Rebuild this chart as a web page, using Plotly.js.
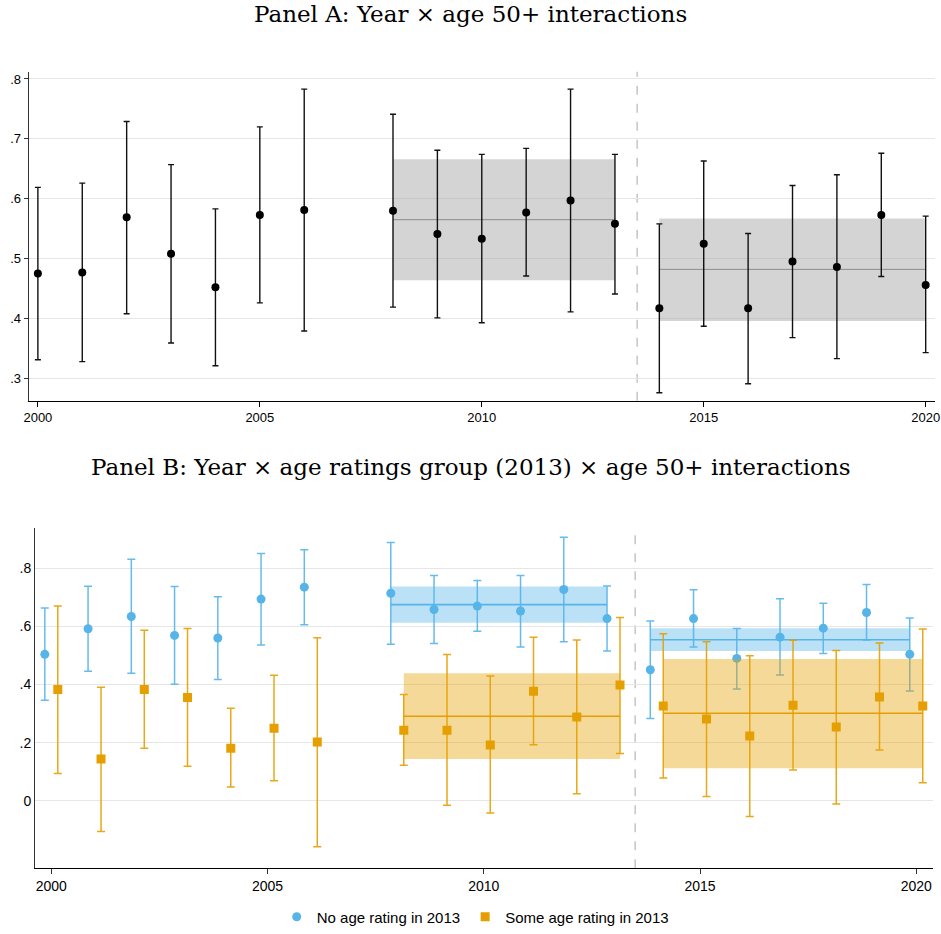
<!DOCTYPE html>
<html>
<head>
<meta charset="utf-8">
<script src="https://cdn.plot.ly/plotly-3.0.1.min.js"></script>
<style>html,body{margin:0;padding:0;background:#fff;}#chart{width:941px;height:934px;}</style>
</head>
<body>
<div id="chart"></div>
<script>
// ---------- DATA ----------
const years = [2000,2001,2002,2003,2004,2005,2006,2008,2009,2010,2011,2012,2013,2014,2015,2016,2017,2018,2019,2020];

// Panel A: Year x age 50+ interactions
const aEst = [0.475,0.477,0.569,0.508,0.452,0.573,0.581,0.580,0.541,0.533,0.577,0.597,0.558,0.417,0.525,0.417,0.495,0.486,0.573,0.456];
const aHi  = [0.619,0.626,0.729,0.657,0.583,0.720,0.783,0.741,0.681,0.674,0.684,0.783,0.674,0.558,0.663,0.542,0.622,0.640,0.676,0.571];
const aLo  = [0.331,0.328,0.408,0.359,0.321,0.426,0.379,0.419,0.401,0.393,0.471,0.411,0.441,0.276,0.387,0.291,0.368,0.333,0.470,0.343];
// Panel A pooled-period bands
const aBandStart = [2008,2014];
const aBandEnd   = [2013,2020];
const aBandLo    = [0.464,0.396];
const aBandHi    = [0.666,0.567];
const aBandMean  = [0.565,0.482];

// Panel B: No age rating in 2013
const bNoEst = [0.504,0.592,0.634,0.569,0.560,0.694,0.735,0.714,0.658,0.670,0.653,0.727,0.627,0.451,0.627,0.490,0.563,0.594,0.648,0.504];
const bNoHi  = [0.663,0.738,0.831,0.737,0.702,0.851,0.864,0.889,0.775,0.758,0.775,0.907,0.739,0.619,0.726,0.593,0.695,0.680,0.744,0.629];
const bNoLo  = [0.346,0.446,0.439,0.401,0.417,0.536,0.606,0.539,0.541,0.583,0.529,0.547,0.515,0.283,0.529,0.385,0.433,0.507,0.553,0.378];
// Panel B: Some age rating in 2013
const bSomeEst = [0.383,0.144,0.383,0.355,0.181,0.250,0.202,0.243,0.243,0.192,0.377,0.288,0.398,0.326,0.281,0.223,0.329,0.254,0.357,0.326];
const bSomeHi  = [0.670,0.391,0.587,0.593,0.318,0.432,0.561,0.366,0.503,0.429,0.563,0.553,0.631,0.575,0.547,0.499,0.552,0.517,0.543,0.591];
const bSomeLo  = [0.094,-0.106,0.181,0.119,0.047,0.069,-0.158,0.122,-0.015,-0.042,0.193,0.024,0.163,0.078,0.015,-0.054,0.106,-0.011,0.175,0.062];
// Panel B pooled-period bands
const bBandStart = [2008,2014];
const bBandEnd   = [2013,2020];
const bNoBandLo   = [0.613,0.515];
const bNoBandHi   = [0.737,0.594];
const bNoBandMean = [0.675,0.554];
const bSomeBandLo   = [0.144,0.112];
const bSomeBandHi   = [0.439,0.488];
const bSomeBandMean = [0.291,0.301];

const policyBreak = 2013.5;
const xTicks = [2000,2005,2010,2015,2020];
const aYTicks = [0.3,0.4,0.5,0.6,0.7,0.8];
const aYText  = [".3",".4",".5",".6",".7",".8"];
const bYTicks = [0,0.2,0.4,0.6,0.8];
const bYText  = ["0",".2",".4",".6",".8"];
const titleA = "Panel A: Year × age 50+ interactions";
const titleB = "Panel B: Year × age ratings group (2013) × age 50+ interactions";
const legNo = "No age rating in 2013";
const legSome = "Some age rating in 2013";

// ---------- STYLE ----------
const BLUE = "#56B4E9", ORANGE = "#E69F00";
const offB = 0.15;

function bandPoly(s, e, lo, hi) {
  return {x:[s,e,e,s,s], y:[lo,lo,hi,hi,lo]};
}
function errs(est, hi, lo) {
  return {plus: est.map((v,i)=>hi[i]-v), minus: est.map((v,i)=>v-lo[i])};
}

const traces = [];

// Panel A bands
for (let k=0;k<aBandStart.length;k++){
  const p = bandPoly(aBandStart[k], aBandEnd[k], aBandLo[k], aBandHi[k]);
  traces.push({type:"scatter", mode:"lines", x:p.x, y:p.y, fill:"toself",
    fillcolor:"rgba(160,160,160,0.45)", line:{width:0}, hoverinfo:"skip",
    showlegend:false, xaxis:"x", yaxis:"y"});
  traces.push({type:"scatter", mode:"lines", x:[aBandStart[k], aBandEnd[k]], y:[aBandMean[k], aBandMean[k]],
    line:{color:"#8c8c8c", width:1}, hoverinfo:"skip", showlegend:false, xaxis:"x", yaxis:"y"});
}
const eA = errs(aEst, aHi, aLo);
traces.push({type:"scatter", mode:"markers", x:years, y:aEst,
  marker:{color:"#000", size:8, symbol:"circle"},
  error_y:{type:"data", symmetric:false, array:eA.plus, arrayminus:eA.minus, color:"#111", thickness:1.4, width:3},
  showlegend:false, xaxis:"x", yaxis:"y"});

// Panel B
const xNo = years.map(y=>y-offB), xSome = years.map(y=>y+offB);
for (let k=0;k<bBandStart.length;k++){
  const p = bandPoly(bBandStart[k]-offB, bBandEnd[k]-offB, bNoBandLo[k], bNoBandHi[k]);
  traces.push({type:"scatter", mode:"lines", x:p.x, y:p.y, fill:"toself",
    fillcolor:"rgba(86,180,233,0.4)", line:{width:0}, hoverinfo:"skip",
    showlegend:false, xaxis:"x2", yaxis:"y2"});
  traces.push({type:"scatter", mode:"lines", x:[bBandStart[k]-offB, bBandEnd[k]-offB], y:[bNoBandMean[k], bNoBandMean[k]],
    line:{color:BLUE, width:1.6}, hoverinfo:"skip", showlegend:false, xaxis:"x2", yaxis:"y2"});
}
const eNo = errs(bNoEst, bNoHi, bNoLo);
traces.push({type:"scatter", mode:"markers", name:legNo, x:xNo, y:bNoEst,
  marker:{color:BLUE, size:9, symbol:"circle"},
  error_y:{type:"data", symmetric:false, array:eNo.plus, arrayminus:eNo.minus, color:"rgba(86,180,233,0.9)", thickness:1.5, width:4},
  xaxis:"x2", yaxis:"y2"});
for (let k=0;k<bBandStart.length;k++){
  const p = bandPoly(bBandStart[k]+offB, bBandEnd[k]+offB, bSomeBandLo[k], bSomeBandHi[k]);
  traces.push({type:"scatter", mode:"lines", x:p.x, y:p.y, fill:"toself",
    fillcolor:"rgba(230,159,0,0.4)", line:{width:0}, hoverinfo:"skip",
    showlegend:false, xaxis:"x2", yaxis:"y2"});
  traces.push({type:"scatter", mode:"lines", x:[bBandStart[k]+offB, bBandEnd[k]+offB], y:[bSomeBandMean[k], bSomeBandMean[k]],
    line:{color:ORANGE, width:1.6}, hoverinfo:"skip", showlegend:false, xaxis:"x2", yaxis:"y2"});
}
const eSome = errs(bSomeEst, bSomeHi, bSomeLo);
traces.push({type:"scatter", mode:"markers", name:legSome, x:xSome, y:bSomeEst,
  marker:{color:ORANGE, size:9, symbol:"square"},
  error_y:{type:"data", symmetric:false, array:eSome.plus, arrayminus:eSome.minus, color:"rgba(230,159,0,0.9)", thickness:1.5, width:4},
  xaxis:"x2", yaxis:"y2"});

const W = 941, H = 934;
const px = v => v / W, py = v => 1 - v / H;

const tickFont = {family:"Liberation Sans, Arial, sans-serif", size:13, color:"#000"};
const tickFontB = {family:"Liberation Sans, Arial, sans-serif", size:14, color:"#000"};
const titleFont = {family:"DejaVu Serif, serif", size:23, color:"#000"};

const layout = {
  width:W, height:H,
  margin:{l:0,r:0,t:0,b:0},
  paper_bgcolor:"#fff", plot_bgcolor:"#fff",
  showlegend:true,
  legend:{orientation:"h", x:0.505, xanchor:"center", y:py(920), yanchor:"middle",
    font:{family:"Liberation Sans, Arial, sans-serif", size:15, color:"#000"}, itemwidth:30},
  xaxis:{domain:[px(29), px(935)], range:[1999.80, 2020.21], tickvals:xTicks, ticktext:xTicks.map(String),
    showgrid:false, zeroline:false, showline:true, linecolor:"#000", linewidth:1,
    ticks:"outside", ticklen:5, tickcolor:"#000", tickfont:tickFont, anchor:"y"},
  yaxis:{domain:[py(402), py(72)], range:[0.2627, 0.812], tickvals:aYTicks, ticktext:aYText,
    showgrid:true, gridcolor:"#e6e6e6", gridwidth:1, zeroline:false, showline:true, linecolor:"#333", linewidth:1.3,
    ticks:"outside", ticklen:4, tickcolor:"#333", tickfont:tickFont, anchor:"x"},
  xaxis2:{domain:[px(35.3), px(932.7)], range:[1999.63, 2020.38], tickvals:xTicks, ticktext:xTicks.map(String),
    showgrid:false, zeroline:false, showline:true, linecolor:"#000", linewidth:1,
    ticks:"outside", ticklen:5, tickcolor:"#333", tickfont:tickFontB, anchor:"y2"},
  yaxis2:{domain:[py(871), py(529.3)], range:[-0.232, 0.94], tickvals:bYTicks, ticktext:bYText,
    showgrid:true, gridcolor:"#e6e6e6", gridwidth:1, zeroline:false, showline:true, linecolor:"#333", linewidth:1.3,
    ticks:"", tickfont:tickFontB, anchor:"x2"},
  shapes:[
    {type:"line", xref:"x", yref:"y domain", x0:policyBreak, x1:policyBreak, y0:0, y1:1,
      line:{color:"#bdbdbd", width:1.3, dash:"dash"}, layer:"below"},
    {type:"line", xref:"x2", yref:"y2 domain", x0:policyBreak, x1:policyBreak, y0:0, y1:1,
      line:{color:"#bdbdbd", width:1.3, dash:"dash"}, layer:"below"}
  ],
  annotations:[
    {text:titleA, xref:"paper", yref:"paper", x:0.5, y:py(14), xanchor:"center", yanchor:"middle", showarrow:false, font:titleFont},
    {text:titleB, xref:"paper", yref:"paper", x:0.5, y:py(469), xanchor:"center", yanchor:"middle", showarrow:false, font:titleFont}
  ]
};

Plotly.newPlot("chart", traces, layout, {displayModeBar:false, staticPlot:true});
</script>
</body>
</html>
